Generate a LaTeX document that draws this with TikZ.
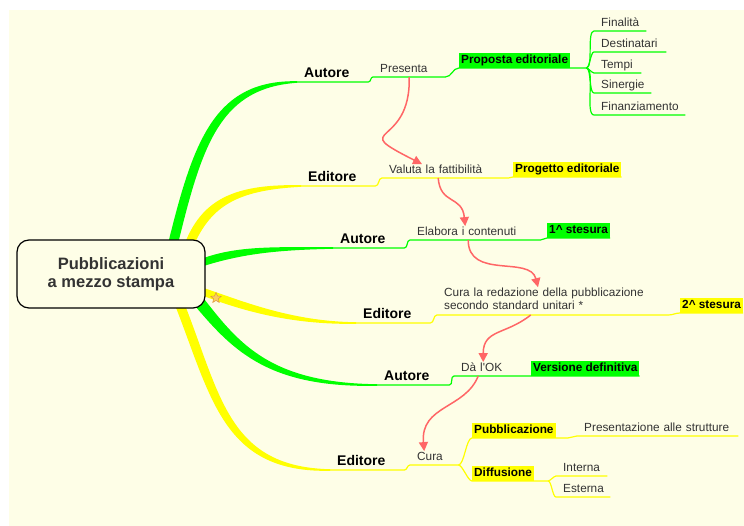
\documentclass[tikz,border=0pt]{standalone}
\usepackage{fontspec}
\setmainfont{Liberation Sans}
\usetikzlibrary{arrows.meta,shapes.geometric,backgrounds}
\definecolor{cream}{RGB}{254,254,231}
\definecolor{grn}{RGB}{0,255,0}
\definecolor{yel}{RGB}{255,255,0}
\definecolor{rd}{RGB}{255,102,102}
\definecolor{txt}{RGB}{51,51,51}

\begin{document}
\begin{tikzpicture}
[x=1pt,y=-1pt,
 lab/.style={anchor=south west,inner xsep=7pt,inner ysep=1pt,text height=8.5pt,text depth=3pt,align=left,text=txt,font=\fontsize{11.8}{13}\selectfont},
 blab/.style={lab,text=black,text height=10pt,font=\bfseries\fontsize{14}{16}\selectfont},
 tagbox/.style={anchor=south west,inner xsep=2pt,inner ysep=1pt,text height=9.5pt,text depth=3pt,font=\bfseries\fontsize{11.8}{13}\selectfont},
 gln/.style={grn,line width=1.2pt},
 yln/.style={yel,line width=1.2pt},
 rise/.style={out=0,in=180},
 fork/.style={out=0,in=180,looseness=0.5},
 arr/.style={rd,line width=1.5pt,-{Triangle[length=9pt,width=9pt]}}]
\useasboundingbox (0,0) rectangle (744,526);

\node[draw,fill=cream,rounded corners=12pt,line width=1.2pt,minimum width=188pt,minimum height=68pt,align=center,text=txt,font=\bfseries\fontsize{16.5}{18}\selectfont] (pub) at (111,274) {Pubblicazioni\\a mezzo stampa};
\node[star,star points=5,star point ratio=2.2,minimum size=11pt,inner sep=0pt,line width=0.5pt,fill={rgb,255:red,250;green,205;blue,95},draw={rgb,255:red,220;green,150;blue,60}] (stella) at (216,298) {};

\node[blab,text width=57pt] (a1) at (297,82) {Autore};
\node[blab,text width=60pt] (e1) at (301,186) {Editore};
\node[blab,text width=57pt] (a2) at (333,248) {Autore};
\node[blab,text width=60pt] (e2) at (356,323) {Editore};
\node[blab,text width=58pt] (a3) at (377,385) {Autore};
\node[blab,text width=60pt] (e3) at (330,470) {Editore};

\node[lab,text width=58pt] (pres) at (373,77) {Presenta};
\node[lab,text width=112pt] (val) at (382,178) {Valuta la fattibilità};
\node[lab,text width=116pt] (ela) at (410,240) {Elabora i contenuti};
\node[lab,text width=217pt,text height={},text depth={}] (cur) at (437,315) {Cura la redazione della pubblicazione\\secondo standard unitari *\strut};
\node[lab,text width=52pt] (ok) at (454,376) {Dà l\textquotesingle OK};
\node[lab,text width=34pt] (cura) at (410,465) {Cura};

\node[lab,text width=38pt] (fin) at (594,31) {Finalità};
\node[lab,text width=58pt] (dest) at (594,52) {Destinatari};
\node[lab,text width=33pt] (tem) at (594,73) {Tempi};
\node[lab,text width=43pt] (sin) at (594,93) {Sinergie};
\node[lab,text width=77pt] (fz) at (594,115) {Finanziamento};
\node[lab,text width=147pt] (pst) at (577,436) {Presentazione alle strutture};
\node[lab,text width=37pt] (int) at (556,476) {Interna};
\node[lab,text width=40pt] (est) at (556,497) {Esterna};

\node[tagbox,fill=grn] (prop) at (459,68) {Proposta editoriale};
\node[tagbox,fill=yel] (prog) at (513,177) {Progetto editoriale};
\node[tagbox,fill=grn] (st1) at (547,238) {1\textasciicircum{} stesura};
\node[tagbox,fill=yel] (st2) at (680,313) {2\textasciicircum{} stesura};
\node[tagbox,fill=grn] (ver) at (531,376) {Versione definitiva};
\node[tagbox,fill=yel] (pubb) at (472,438) {Pubblicazione};
\node[tagbox,fill=yel] (diff) at (472,481) {Diffusione};

\coordinate (fk1) at ([xshift=16pt]prop.south east);
\coordinate (fk3) at ([xshift=14pt]diff.south east);

\begin{scope}[on background layer]
\fill[cream] (9,10) rectangle (744,526);
\fill[grn] ([xshift=-37pt,yshift=-2pt]pub.north east) .. controls (194,138) and (216,80) .. ([yshift=0.8pt]a1.south west) -- ([yshift=-0.8pt]a1.south west) .. controls (222,88) and (203,141) .. ([xshift=-27pt,yshift=-2pt]pub.north east) -- cycle;
\fill[yel] ([xshift=-20pt,yshift=-2pt]pub.north east) .. controls (204,197) and (238,184) .. ([yshift=0.8pt]e1.south west) -- ([yshift=-0.8pt]e1.south west) .. controls (242,190) and (214,203) .. ([xshift=-10pt,yshift=-2pt]pub.north east) -- cycle;
\fill[grn] ([xshift=-2pt,yshift=16pt]pub.east) .. controls (238,246) and (272,247) .. ([yshift=0.8pt]a2.south west) -- ([yshift=-0.8pt]a2.south west) .. controls (276,250) and (242,254) .. ([xshift=-2pt,yshift=8pt]pub.east) -- cycle;
\fill[yel] ([xshift=-2pt,yshift=-14pt]pub.east) .. controls (240,300) and (290,321.5) .. ([yshift=0.8pt]e2.south west) -- ([yshift=-0.8pt]e2.south west) .. controls (288,325) and (238,309) .. ([xshift=-2pt,yshift=-22pt]pub.east) -- cycle;
\fill[grn] ([xshift=-1pt,yshift=9pt]pub.south east) .. controls (240,345) and (272,383) .. ([yshift=0.8pt]a3.south west) -- ([yshift=-0.8pt]a3.south west) .. controls (270,388) and (234,352) .. ([xshift=-10pt,yshift=2pt]pub.south east) -- cycle;
\fill[yel] ([xshift=-20pt,yshift=2pt]pub.south east) .. controls (221,398) and (230,467) .. ([yshift=0.8pt]e3.south west) -- ([yshift=-0.8pt]e3.south west) .. controls (224,473) and (212,400) .. ([xshift=-30pt,yshift=2pt]pub.south east) -- cycle;
\end{scope}

\draw[gln] (a1.south west) -- (a1.south east) to[rise] (pres.south west) -- (pres.south east) to[rise] (prop.south west) -- (fk1);
\foreach \n in {fin,dest,tem,sin,fz} \draw[gln] (fk1) to[fork] (\n.south west) -- (\n.south east);
\draw[gln] (a2.south west) -- (a2.south east) to[rise] (ela.south west) -- (ela.south east) to[rise] (st1.south west) -- (st1.south east);
\draw[gln] (a3.south west) -- (a3.south east) to[rise] (ok.south west) -- (ok.south east) to[rise] (ver.south west) -- (ver.south east);
\draw[yln] (e1.south west) -- (e1.south east) to[rise] (val.south west) -- (val.south east) to[rise] (prog.south west) -- (prog.south east);
\draw[yln] (e2.south west) -- (e2.south east) to[rise] (cur.south west) -- (cur.south east) to[rise] (st2.south west) -- (st2.south east);
\draw[yln] (e3.south west) -- (e3.south east) to[rise] (cura.south west) -- (cura.south east);
\draw[yln] (cura.south east) to[fork] (pubb.south west) -- (pubb.south east) -- ++(12,0) to[rise] (pst.south west) -- (pst.south east);
\draw[yln] (cura.south east) to[fork] (diff.south west) -- (fk3);
\foreach \n in {int,est} \draw[yln] (fk3) to[fork] (\n.south west) -- (\n.south east);

\draw[arr] (pres.south) .. controls +(2,73) and +(-77,-39) .. ([xshift=40pt]val.north west);
\draw[arr] ([xshift=-7pt]val.south) .. controls +(2,27) and +(-3,-31) .. ([xshift=-10pt]ela.north);
\draw[arr] ([xshift=-7pt]ela.south) .. controls +(0,40) and +(-8,-32) .. ([xshift=101pt]cur.north west);
\draw[arr] ([xshift=-22pt]cur.south) .. controls +(-25,20) and +(0,-33) .. ([xshift=-4pt]ok.north);
\draw[arr] ([xshift=-9pt]ok.south) .. controls +(-13,33) and +(-4,-46) .. ([xshift=-10pt]cura.north);
\end{tikzpicture}
\end{document}
